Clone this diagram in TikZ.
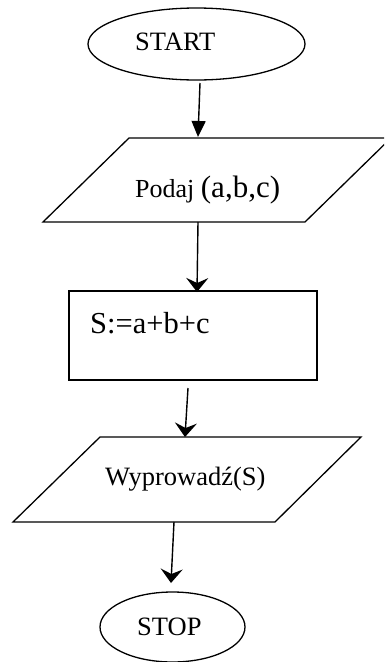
\documentclass[tikz,border=0pt]{standalone}
\usepackage{fontspec}
\setmainfont{Liberation Serif}
\usetikzlibrary{shapes.geometric,arrows.meta}
\tikzset{
  shapeline/.style={draw=black, line width=1.3pt},
  term/.style={shapeline, ellipse, inner sep=0pt},
  txt/.style={anchor=base west, inner sep=0pt, text=black},
  flow/.style={draw=black, line width=1.4pt, -{Stealth[length=14pt,width=22pt,inset=5pt]}},
  flowtri/.style={draw=black, line width=1.4pt, -{Triangle[length=16pt,width=14pt]}},
}
\begin{document}
\begin{tikzpicture}[x=1pt,y=-1pt]
\useasboundingbox (0,0) rectangle (384,662);
\clip (0,0) rectangle (384,662);
% START
\node[term, minimum width=217pt, minimum height=72pt] (start) at (196.5,44) {};
\node[txt, font=\fontsize{26.5}{30}\selectfont] (starttxt) at (135,50) {START};
% input parallelogram
\path[shapeline] (129,138) coordinate (p1a) -- (391,138) coordinate (p1b) -- (305,222) coordinate (p1c) -- (43,222) coordinate (p1d) -- cycle;
\node[txt] (podaj) at (135,197) {\fontsize{26}{30}\selectfont Podaj \fontsize{31}{34}\selectfont(a,b,c)};
% process
\node[shapeline, rectangle, minimum width=248pt, minimum height=89pt, inner sep=0pt] (proc) at (193,335.5) {};
\node[txt, font=\fontsize{30.5}{34}\selectfont] (proctxt) at (90,333) {S:=a+b+c};
% output parallelogram
\path[shapeline] (100,437) coordinate (p2a) -- (361,437) coordinate (p2b) -- (275,522) coordinate (p2c) -- (13,522) coordinate (p2d) -- cycle;
\node[txt, font=\fontsize{26.5}{30}\selectfont] (outtxt) at (105,485) {Wyprowadź(S)};
% STOP
\node[term, minimum width=145pt, minimum height=70pt] (stop) at (172.5,627) {};
\node[txt, font=\fontsize{26.5}{30}\selectfont] (stoptxt) at (137,635) {STOP};
% connectors
\coordinate (a1s) at (200,83);
\coordinate (a1e) at (198,137);
\coordinate (a2s) at (198,222);
\coordinate (a2e) at (197,292);
\coordinate (a3s) at (188,388);
\coordinate (a3e) at (185,437);
\coordinate (a4s) at (174,522);
\coordinate (a4e) at (171,583);
\draw[flowtri] (a1s) -- (a1e);
\draw[flow] (a2s) -- (a2e);
\draw[flow] (a3s) -- (a3e);
\draw[flow] (a4s) -- (a4e);
\end{tikzpicture}
\end{document}
